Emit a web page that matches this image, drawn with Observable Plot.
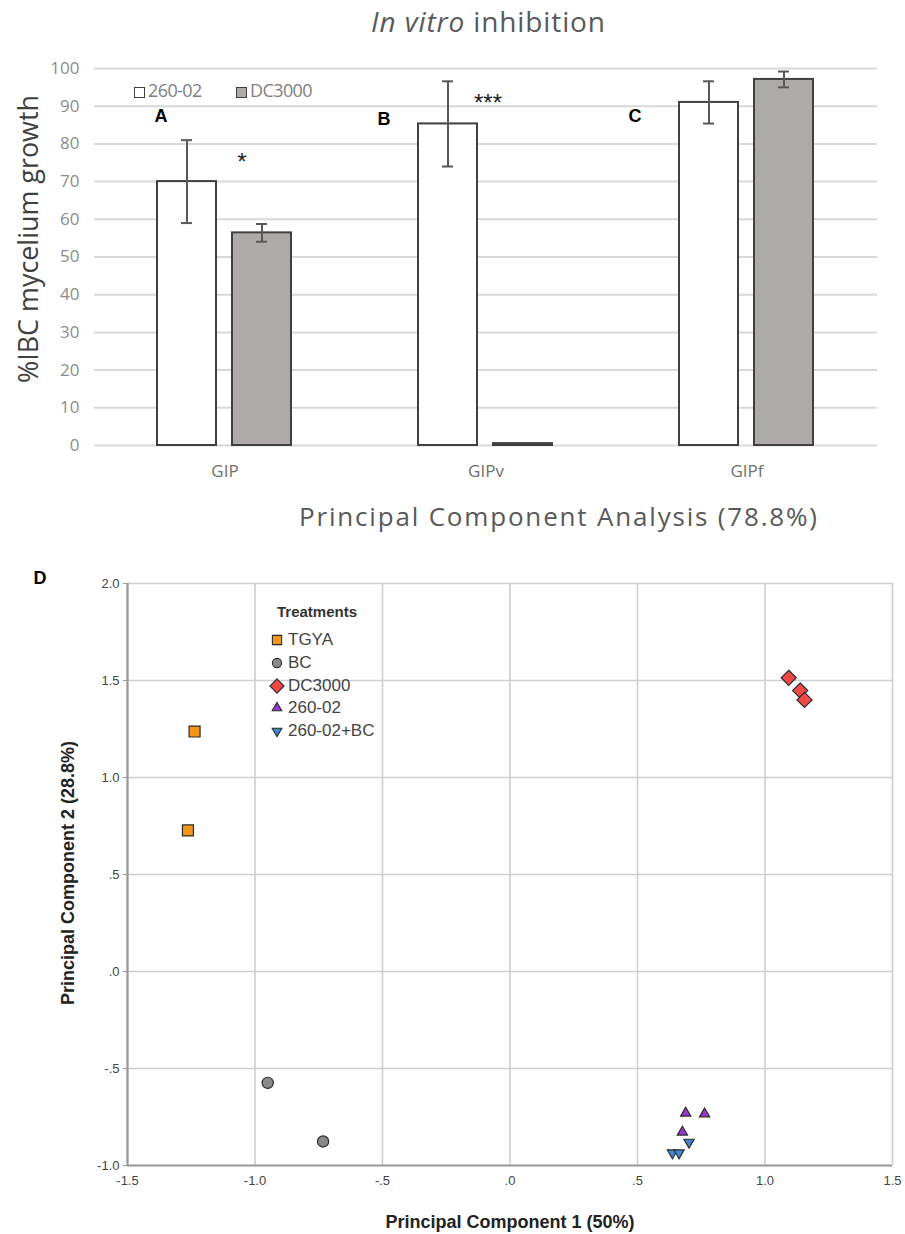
<!DOCTYPE html>
<html>
<head>
<meta charset="utf-8">
<script src="https://cdn.jsdelivr.net/npm/d3@7"></script>
<script src="https://cdn.jsdelivr.net/npm/@observablehq/plot@0.6"></script>
<style>
  body { margin: 0; background: #fff; }
  #root { position: relative; width: 905px; height: 1234px; overflow: hidden; background: #fff; }
  .abs { position: absolute; white-space: nowrap; }
  .c { transform: translate(-50%, -50%); }
  svg.plot { position: absolute; left: 0; }
</style>
</head>
<body>
<div id="root"></div>
<script>
// ---------- Panel A-C data (in vitro inhibition) ----------
const groups = ["GIP", "GIPv", "GIPf"];
const series = ["260-02", "DC3000"];
const mean260 = [70, 85.3, 91];
const err260 = [11, 11.3, 5.6];
const meanDC = [56.4, 0.5, 97.1];
const errDC = [2.35, 0, 2.1];
const yTicksTop = [0, 10, 20, 30, 40, 50, 60, 70, 80, 90, 100];

// ---------- Panel D data (PCA) ----------
const treatments = ["TGYA", "BC", "DC3000", "260-02", "260-02+BC"];
const pc1 = {
  "TGYA": [-1.237, -1.263],
  "BC": [-0.950, -0.733],
  "DC3000": [1.093, 1.138, 1.155],
  "260-02": [0.689, 0.763, 0.676],
  "260-02+BC": [0.702, 0.637, 0.663]
};
const pc2 = {
  "TGYA": [1.237, 0.727],
  "BC": [-0.574, -0.876],
  "DC3000": [1.514, 1.448, 1.400],
  "260-02": [-0.730, -0.734, -0.828],
  "260-02+BC": [-0.880, -0.935, -0.935]
};
const pcTicks = [-1.5, -1.0, -0.5, 0, 0.5, 1.0, 1.5];
const pcTicksY = [-1.0, -0.5, 0, 0.5, 1.0, 1.5, 2.0];

// styles
const fillsD = ["#f39517", "#8a8a8a", "#f04848", "#9b35cf", "#3f86d4"];
const invTriangle = {
  draw(context, size) {
    const s = Math.sqrt(size / (Math.sqrt(3) / 4));
    const h = s * Math.sqrt(3) / 2;
    context.moveTo(-s / 2, -h / 3);
    context.lineTo(s / 2, -h / 3);
    context.lineTo(0, 2 * h / 3);
    context.closePath();
  }
};
const symbolsD = ["square", "circle", "diamond2", "triangle", invTriangle];
const radiiD = [6.2, 5.6, 6.8, 3.8, 3.8];

const root = document.getElementById("root");
const NS = "http://www.w3.org/2000/svg";
function addText(html, x, y, style, center = true) {
  const d = document.createElement("div");
  d.className = "abs" + (center ? " c" : "");
  d.style.left = x + "px";
  d.style.top = y + "px";
  d.innerHTML = html;
  Object.assign(d.style, style);
  root.appendChild(d);
  return d;
}

// ---------- Top chart ----------
const rows = groups.flatMap((g, i) => [
  {group: g, series: series[0], mean: mean260[i], err: err260[i]},
  {group: g, series: series[1], mean: meanDC[i], err: errDC[i]}
]);
const errRows = rows.filter(d => d.err > 0);

const chartTop = Plot.plot({
  width: 905, height: 440,
  marginTop: 18, marginBottom: 45, marginLeft: 93, marginRight: 28,
  style: {fontFamily: "Open Sans", background: "transparent"},
  fx: {domain: groups, padding: 0, label: null},
  x: {domain: series, paddingInner: 0.213, paddingOuter: 0.846, axis: null},
  y: {domain: [0, 100], axis: null},
  color: {domain: series, range: ["#ffffff", "#aeaaaa"]},
  marks: [
    Plot.gridY(yTicksTop, {stroke: "#d9d9d9", strokeWidth: 2, strokeOpacity: 1}),
    Plot.axisY(yTicksTop, {tickSize: 0, tickPadding: 15, fontSize: 17, fill: "#8c8c8c", label: null}),
    Plot.axisFx({anchor: "bottom", tickSize: 0, tickPadding: 19, fontSize: 17, fill: "#707070", label: null}),
    Plot.barY(rows, {fx: "group", x: "series", y: "mean", fill: "series", stroke: "#404040", strokeWidth: 2}),
    Plot.ruleX(errRows, {fx: "group", x: "series", y1: d => d.mean - d.err, y2: d => d.mean + d.err, stroke: "#595959", strokeWidth: 2}),
    Plot.tickY(errRows, {fx: "group", x: "series", y: d => d.mean - d.err, insetLeft: 24, insetRight: 24, stroke: "#595959", strokeWidth: 2}),
    Plot.tickY(errRows, {fx: "group", x: "series", y: d => d.mean + d.err, insetLeft: 24, insetRight: 24, stroke: "#595959", strokeWidth: 2})
  ]
});
chartTop.classList.add("plot");
chartTop.style.top = "50px";
root.appendChild(chartTop);

// ---------- Bottom chart ----------
const fmt = v => v.toFixed(1).replace(/^(-?)0\./, "$1.");
const dotMarks = treatments.map((t, i) => Plot.dot(
  pc1[t].map((x, j) => ({x, y: pc2[t][j]})),
  {x: "x", y: "y", symbol: symbolsD[i], r: radiiD[i], fill: fillsD[i], stroke: "#2b2b2b", strokeWidth: 1.2}
));

const chartBottom = Plot.plot({
  width: 905, height: 674,
  marginTop: 23, marginBottom: 69, marginLeft: 127, marginRight: 13,
  style: {fontFamily: "Liberation Sans, Arial, sans-serif", background: "transparent"},
  x: {domain: [-1.5, 1.5]},
  y: {domain: [-1, 2]},
  marks: [
    Plot.gridX(pcTicks, {stroke: "#cfcfcf", strokeWidth: 1.6, strokeOpacity: 1}),
    Plot.gridY(pcTicksY, {stroke: "#cfcfcf", strokeWidth: 1.6, strokeOpacity: 1}),
    Plot.ruleX([-1.5], {stroke: "#9a9a9a", strokeWidth: 2.2}),
    Plot.ruleY([-1], {stroke: "#9a9a9a", strokeWidth: 2.2}),
    Plot.axisX(pcTicks, {tickFormat: fmt, tickSize: 0, tickPadding: 10, fontSize: 13, fill: "#444", label: null}),
    Plot.axisY(pcTicksY, {tickFormat: fmt, tickSize: 4, tickPadding: 4, stroke: "#9a9a9a", fontSize: 13, fill: "#444", label: null}),
    ...dotMarks
  ]
});
chartBottom.classList.add("plot");
chartBottom.style.top = "560px";
root.appendChild(chartBottom);

// ---------- Texts, top ----------
function svgText(parts, x, y, opts, w, h, left, topPx) {
  const s = document.createElementNS(NS, "svg");
  s.setAttribute("width", w); s.setAttribute("height", h);
  s.style.position = "absolute"; s.style.left = left + "px"; s.style.top = topPx + "px";
  const t = document.createElementNS(NS, "text");
  for (const [k, v] of Object.entries(opts)) t.setAttribute(k, v);
  t.setAttribute("x", x); t.setAttribute("y", y);
  for (const [txt, italic] of parts) {
    const ts = document.createElementNS(NS, "tspan");
    if (italic) ts.setAttribute("font-style", "italic");
    ts.textContent = txt;
    t.appendChild(ts);
  }
  s.appendChild(t);
  root.appendChild(s);
}

// title
svgText([["In vitro", true], [" inhibition", false]], 488, 32,
  {"text-anchor": "middle", "font-family": "Open Sans", "font-size": "28", fill: "#595959", textLength: "234", lengthAdjust: "spacing"},
  905, 45, 0, 0);

// y label (rotated, fitted length)
(function () {
  const s = document.createElementNS(NS, "svg");
  s.setAttribute("width", 60); s.setAttribute("height", 340);
  s.style.position = "absolute"; s.style.left = "0px"; s.style.top = "70px";
  const t = document.createElementNS(NS, "text");
  t.setAttribute("transform", "translate(38,169) rotate(-90)");
  t.setAttribute("text-anchor", "middle");
  t.setAttribute("font-family", "Open Sans");
  t.setAttribute("font-size", "27");
  t.setAttribute("fill", "#404040");
  t.setAttribute("textLength", "288");
  t.setAttribute("lengthAdjust", "spacingAndGlyphs");
  t.textContent = "%IBC mycelium growth";
  t.setAttribute("x", 0); t.setAttribute("y", 0);
  s.appendChild(t);
  root.appendChild(s);
})();

// top legend
(function () {
  const items = [[series[0], "#ffffff", 134], [series[1], "#aeaaaa", 236]];
  for (const [label, fill, x] of items) {
    addText(`<span style="display:inline-block;width:9px;height:9px;border:1.6px solid #404040;background:${fill};margin-right:3px;vertical-align:-1px"></span>${label}`,
      x, 78, {fontFamily: "Open Sans", fontSize: "18px", color: "#808080", letterSpacing: "-0.6px"}, false);
  }
})();

addText("A", 161, 116, {fontFamily: "Liberation Sans, Arial", fontWeight: "bold", fontSize: "18px", color: "#000"});
addText("B", 384, 119, {fontFamily: "Liberation Sans, Arial", fontWeight: "bold", fontSize: "18px", color: "#000"});
addText("C", 635, 116, {fontFamily: "Liberation Sans, Arial", fontWeight: "bold", fontSize: "18px", color: "#000"});
addText("*", 242, 162, {fontFamily: "Liberation Sans, Arial", fontSize: "24px", color: "#222"});
addText("***", 488, 103, {fontFamily: "Liberation Sans, Arial", fontSize: "24px", color: "#222"});

// PCA title
svgText([["Principal Component Analysis (78.8%)", false]], 558, 34,
  {"text-anchor": "middle", "font-family": "Open Sans", "font-size": "26", fill: "#595959", textLength: "518", lengthAdjust: "spacing"},
  905, 50, 0, 492);

// ---------- Texts, bottom ----------
addText("D", 40, 578, {fontFamily: "Liberation Sans, Arial", fontWeight: "bold", fontSize: "18px", color: "#000"});
addText("Principal Component 1 (50%)", 510, 1222, {fontFamily: "Liberation Sans, Arial", fontWeight: "bold", fontSize: "18px", color: "#222"});
addText("Principal Component 2 (28.8%)", 68, 873, {fontFamily: "Liberation Sans, Arial", fontWeight: "bold", fontSize: "18px", color: "#222", transform: "translate(-50%,-50%) rotate(-90deg)"});

// bottom legend
addText("Treatments", 277, 611, {fontFamily: "Liberation Sans, Arial", fontWeight: "bold", fontSize: "15px", color: "#333", transform: "translateY(-50%)"}, false);
(function () {
  const ys = [640, 663, 686, 708, 731];
  treatments.forEach((t, i) => {
    const s = document.createElementNS(NS, "svg");
    s.setAttribute("width", 20); s.setAttribute("height", 20);
    s.style.position = "absolute"; s.style.left = (277 - 10) + "px"; s.style.top = (ys[i] - 10) + "px";
    const p = document.createElementNS(NS, "path");
    const sym = typeof symbolsD[i] === "string"
      ? {square: d3.symbolSquare, circle: d3.symbolCircle, diamond2: d3.symbolDiamond2, triangle: d3.symbolTriangle}[symbolsD[i]]
      : symbolsD[i];
    const r = [5.2, 4.6, 6.4, 3.6, 3.6][i];
    p.setAttribute("d", d3.symbol(sym, Math.PI * r * r)());
    p.setAttribute("transform", "translate(10,10)");
    p.setAttribute("fill", fillsD[i]);
    p.setAttribute("stroke", "#2b2b2b");
    p.setAttribute("stroke-width", "1.1");
    s.appendChild(p);
    root.appendChild(s);
    addText(t, 288, ys[i], {fontFamily: "Liberation Sans, Arial", fontSize: "17px", color: "#444", transform: "translateY(-50%)"}, false);
  });
})();
</script>
</body>
</html>
